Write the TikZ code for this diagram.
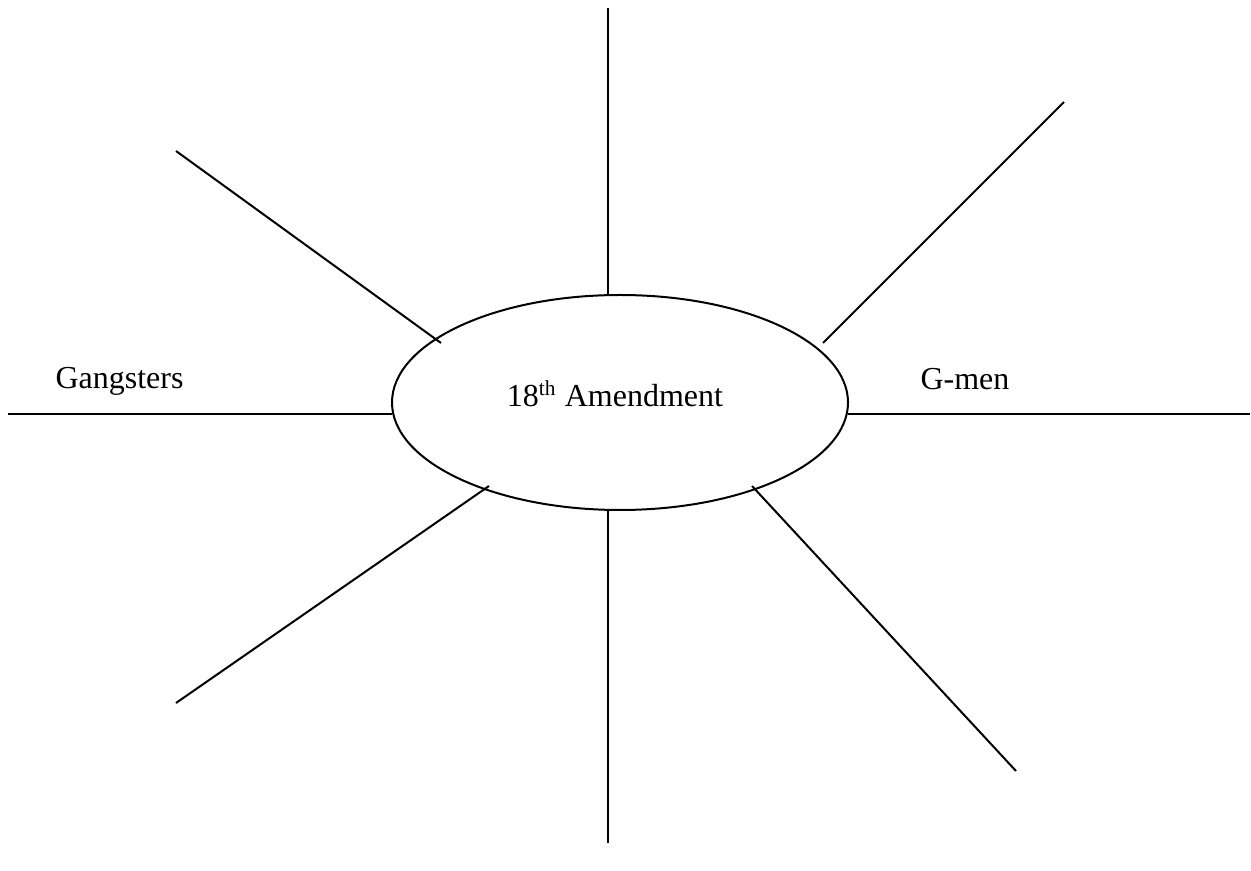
\documentclass[tikz,border=0pt]{standalone}
\usepackage{fontspec}
\setmainfont{Liberation Serif}
\usepackage{tikz}
\usetikzlibrary{shapes,positioning,calc}

\begin{document}
\begin{tikzpicture}[x=0.375pt,y=-0.375pt,
    spoke/.style={draw=black, line width=0.75pt},
    hub/.style={draw=black, line width=0.75pt, ellipse, minimum width=456*0.375pt, minimum height=215*0.375pt, inner sep=0pt},
    word/.style={font=\fontsize{12}{14}\selectfont, inner sep=0pt, anchor=base west}]
    \useasboundingbox (0,0) rectangle (1251,871);

    % centre ellipse
    \node[hub] (amend) at (620,402.5) {};
    \node[font=\fontsize{12}{14}\selectfont, inner sep=0pt, anchor=base] (title) at (615,407) {18\textsuperscript{th} Amendment};

    % labels
    \node[word] (gang) at (55,389) {Gangsters};
    \node[word] (gmen) at (920,390) {G-men};

    % spoke ends
    \coordinate (topout) at (608,8);
    \coordinate (topin) at (608,295);
    \coordinate (botin) at (608,510);
    \coordinate (botout) at (608,843);
    \coordinate (leftout) at (8,414);
    \coordinate (leftin) at (392,414);
    \coordinate (rightin) at (848,414);
    \coordinate (rightout) at (1250,414);
    \coordinate (ulout) at (176,151);
    \coordinate (ulin) at (441,343);
    \coordinate (urout) at (1064,102);
    \coordinate (urin) at (823,343);
    \coordinate (llout) at (176,703);
    \coordinate (llin) at (489,486);
    \coordinate (lrin) at (752,486);
    \coordinate (lrout) at (1016,771);

    \draw[spoke] (topout) -- (topin);
    \draw[spoke] (botin) -- (botout);
    \draw[spoke] (leftout) -- (leftin);
    \draw[spoke] (rightin) -- (rightout);
    \draw[spoke] (ulout) -- (ulin);
    \draw[spoke] (urout) -- (urin);
    \draw[spoke] (llout) -- (llin);
    \draw[spoke] (lrin) -- (lrout);
\end{tikzpicture}
\end{document}
